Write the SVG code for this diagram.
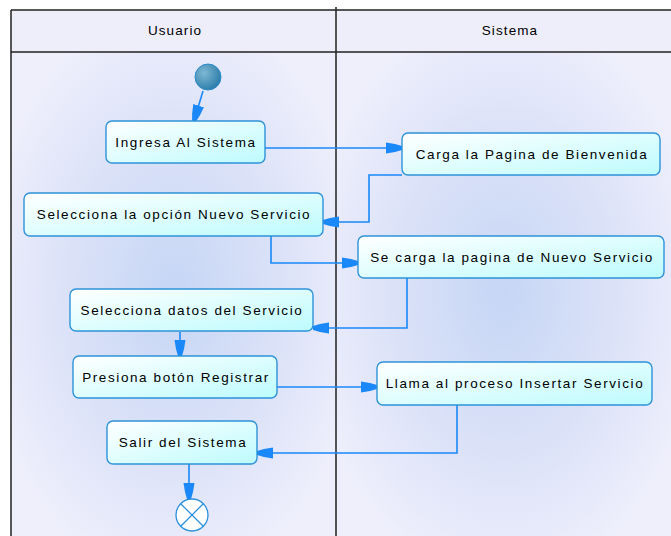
<svg xmlns="http://www.w3.org/2000/svg" width="671" height="536" viewBox="0 0 671 536">
<defs>
<radialGradient id="laneA" cx="0.5" cy="0.5" r="0.6">
<stop offset="0" stop-color="#c6d6f5"/>
<stop offset="0.6" stop-color="#dde3f8"/>
<stop offset="1" stop-color="#efeffc"/>
</radialGradient>
<linearGradient id="boxG" x1="0" y1="0" x2="1" y2="1">
<stop offset="0" stop-color="#ffffff"/>
<stop offset="1" stop-color="#bdfbfd"/>
</linearGradient>
<radialGradient id="initG" cx="0.35" cy="0.35" r="0.7">
<stop offset="0" stop-color="#7fb8d4"/>
<stop offset="1" stop-color="#2a7ca8"/>
</radialGradient>
<marker id="arr" markerUnits="userSpaceOnUse" markerWidth="20" markerHeight="14" refX="16" refY="7" orient="auto">
<path d="M0,1.5 L9,3 L16,5 L16,9 L9,11 L0,12.5 Z" fill="#1a88f8"/>
</marker>
<style>
.hdr{fill:#eeeefb}
.ln{stroke:#202020;stroke-width:1.5;fill:none}
.box{fill:url(#boxG);stroke:#2e93d8;stroke-width:1.4}
.t{font-family:"Liberation Sans",Arial,sans-serif;font-size:13.5px;letter-spacing:1.6px;fill:#000;text-anchor:middle}
.h{font-family:"Liberation Sans",Arial,sans-serif;font-size:13.5px;letter-spacing:1.1px;fill:#000;text-anchor:middle}
.c{stroke:#1a88f8;stroke-width:1.6;fill:none;marker-end:url(#arr)}
</style>
</defs>
<rect x="0" y="0" width="671" height="536" fill="#ffffff"/>
<g id="lanes">
<rect class="hdr" x="11" y="10" width="660" height="42"/>
<rect x="11" y="52" width="325" height="484" fill="url(#laneA)"/>
<rect x="336" y="52" width="335" height="484" fill="url(#laneA)"/>
<line class="ln" x1="11" y1="10" x2="671" y2="10"/>
<line class="ln" x1="11" y1="10" x2="11" y2="536"/>
<line class="ln" x1="336" y1="7" x2="336" y2="536"/>
<line class="ln" x1="11" y1="52" x2="671" y2="52"/>
<text class="h" x="175" y="35">Usuario</text>
<text class="h" x="510" y="35">Sistema</text>
</g>
<g id="connectors">
<path class="c" d="M203,91 L194,121"/>
<path class="c" d="M265,148 H402"/>
<path class="c" d="M402,175 H369 V222 H323"/>
<path class="c" d="M271,236 V263 H358"/>
<path class="c" d="M407,278 V328 H313"/>
<path class="c" d="M180,332 V356"/>
<path class="c" d="M277,387 H377"/>
<path class="c" d="M457,405 V453 H257"/>
<path class="c" d="M189,464 V499"/>
</g>
<g id="inicio">
<circle cx="208" cy="77" r="13" fill="url(#initG)" stroke="#2e8ccc" stroke-width="1"/>
</g>
<g id="ingresa">
<rect class="box" x="106" y="121" width="159" height="42" rx="6"/>
<text class="t" x="186" y="147">Ingresa Al Sistema</text>
</g>
<g id="carga">
<rect class="box" x="402" y="133" width="258" height="42" rx="6"/>
<text class="t" x="532" y="159">Carga la Pagina de Bienvenida</text>
</g>
<g id="selecciona-opcion">
<rect class="box" x="24" y="193" width="299" height="43" rx="6"/>
<text class="t" x="174" y="219">Selecciona la opción Nuevo Servicio</text>
</g>
<g id="se-carga">
<rect class="box" x="358" y="236" width="306" height="42" rx="6"/>
<text class="t" x="512" y="262">Se carga la pagina de Nuevo Servicio</text>
</g>
<g id="selecciona-datos">
<rect class="box" x="70" y="289" width="243" height="42" rx="6"/>
<text class="t" x="192" y="315">Selecciona datos del Servicio</text>
</g>
<g id="presiona">
<rect class="box" x="73" y="356" width="204" height="42" rx="6"/>
<text class="t" x="176" y="382">Presiona botón Registrar</text>
</g>
<g id="llama">
<rect class="box" x="377" y="362" width="275" height="43" rx="6"/>
<text class="t" x="515" y="388">Llama al proceso Insertar Servicio</text>
</g>
<g id="salir">
<rect class="box" x="107" y="421" width="150" height="43" rx="6"/>
<text class="t" x="183" y="447">Salir del Sistema</text>
</g>
<g id="fin">
<circle cx="192" cy="515" r="16" fill="#ffffff" stroke="#2a90dc" stroke-width="1.3"/>
<path d="M180.7,503.7 L203.3,526.3 M203.3,503.7 L180.7,526.3" stroke="#2a90dc" stroke-width="1.3"/>
</g>
</svg>
